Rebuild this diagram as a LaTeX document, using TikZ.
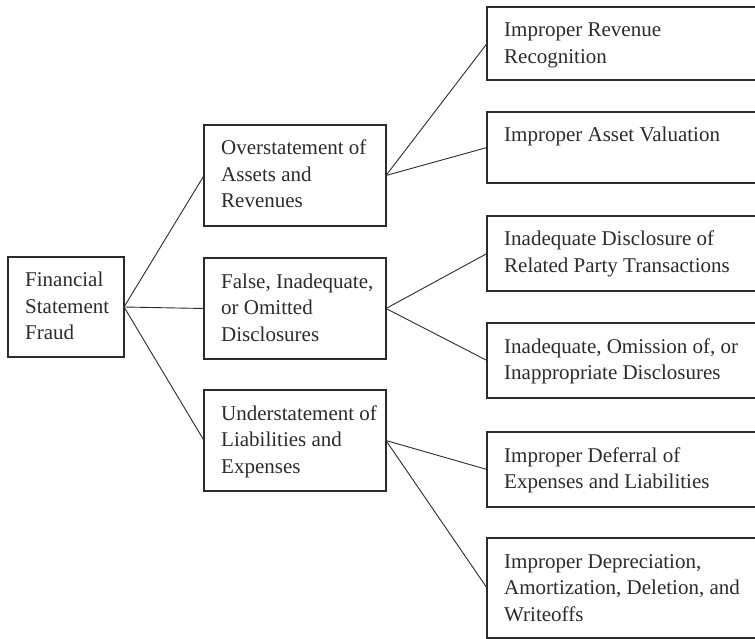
\documentclass[tikz,border=0pt]{standalone}
\usepackage{fontspec}
\setmainfont{Liberation Serif}
\definecolor{ink}{HTML}{2B2B2B}
\newcommand{\labelin}[2]{%
  \node[boxlabel] at ([shift={(17,30)}]#1.north west)
    {\parbox[t]{250pt}{\raggedright #2}};}
\begin{document}
\begin{tikzpicture}[x=1pt, y=-1pt,
  frame/.style={draw=ink, line width=1.3pt, inner sep=0pt, outer sep=0pt,
    anchor=north west},
  boxlabel/.style={anchor=base west, inner sep=0pt, text=ink,
    font=\fontsize{21}{26.5}\selectfont},
  link/.style={draw=ink, line width=0.9pt}]
\useasboundingbox (0,0) rectangle (755,639);

% root box
\node[frame, minimum width=116pt, minimum height=100pt] (root) at (8,257) {};
% second level
\node[frame, minimum width=182pt, minimum height=101pt] (m1) at (204,125) {};
\node[frame, minimum width=182pt, minimum height=101pt] (m2) at (204,258) {};
\node[frame, minimum width=182pt, minimum height=101pt] (m3) at (204,390) {};
% third level (runs past the right edge)
\node[frame, minimum width=280pt, minimum height=73pt]  (r1) at (487,7)   {};
\node[frame, minimum width=280pt, minimum height=71pt]  (r2) at (487,112) {};
\node[frame, minimum width=280pt, minimum height=75pt]  (r3) at (487,216) {};
\node[frame, minimum width=280pt, minimum height=75pt]  (r4) at (487,323) {};
\node[frame, minimum width=280pt, minimum height=75pt]  (r5) at (487,432) {};
\node[frame, minimum width=280pt, minimum height=100pt] (r6) at (487,538) {};

% labels
\labelin{root}{Financial\\Statement\\Fraud}
\labelin{m1}{Overstatement of\\Assets and\\Revenues}
\labelin{m2}{False, Inadequate,\\or Omitted\\Disclosures}
\labelin{m3}{Understatement of\\Liabilities and\\Expenses}
\labelin{r1}{Improper Revenue\\Recognition}
\labelin{r2}{Improper Asset Valuation}
\labelin{r3}{Inadequate Disclosure of\\Related Party Transactions}
\labelin{r4}{Inadequate, Omission of, or\\Inappropriate Disclosures}
\labelin{r5}{Improper Deferral of\\Expenses and Liabilities}
\labelin{r6}{Improper Depreciation,\\Amortization, Deletion, and\\Writeoffs}

% connectors
\draw[link] (root.east) -- (m1.west);
\draw[link] (root.east) -- (m2.west);
\draw[link] (root.east) -- (m3.west);
\draw[link] (m1.east) -- (r1.west);
\draw[link] (m1.east) -- (r2.west);
\draw[link] (m2.east) -- (r3.west);
\draw[link] (m2.east) -- (r4.west);
\draw[link] (m3.east) -- (r5.west);
\draw[link] (m3.east) -- (r6.west);
\end{tikzpicture}
\end{document}
